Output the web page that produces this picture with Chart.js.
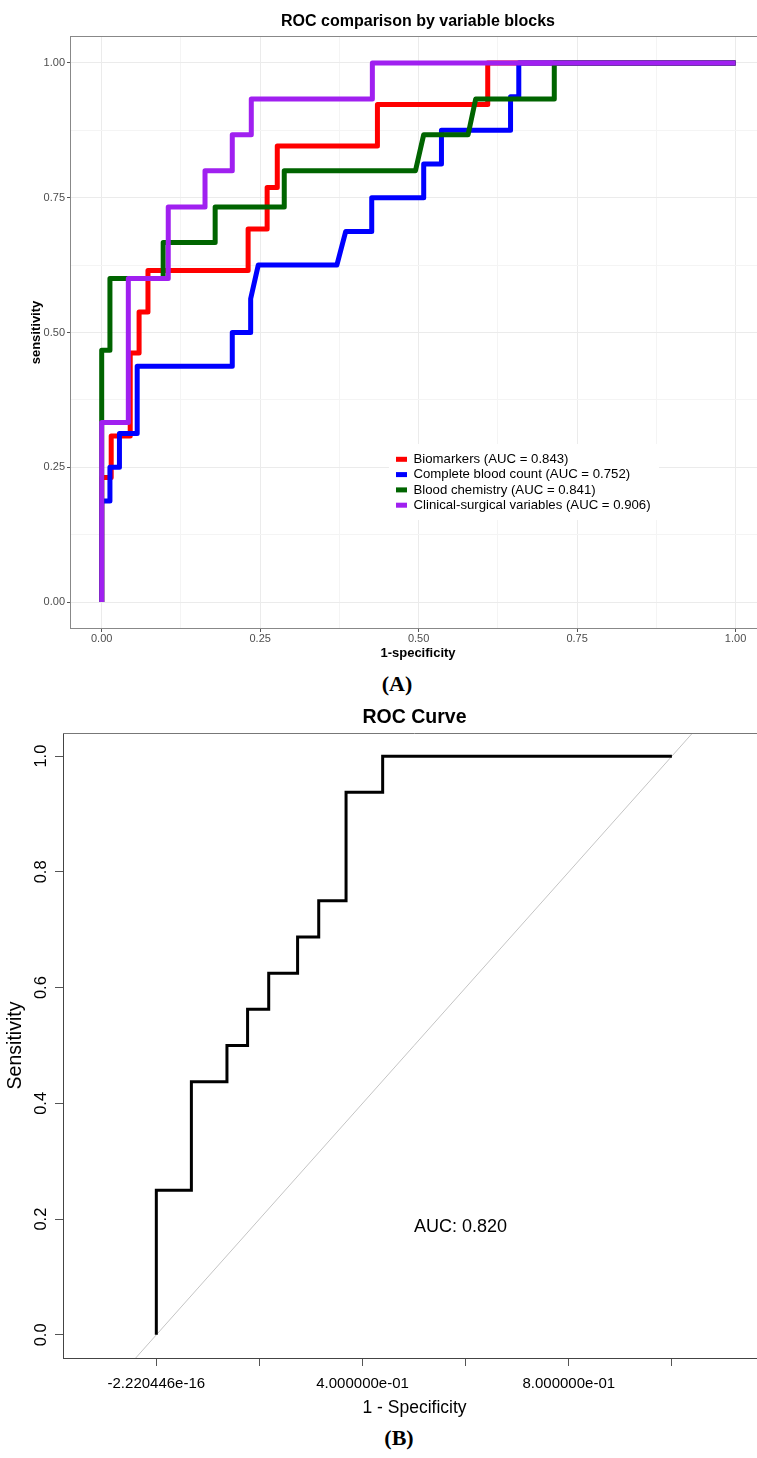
<!DOCTYPE html>
<html>
<head>
<meta charset="utf-8">
<title>ROC curves</title>
<script src="https://cdn.jsdelivr.net/npm/chart.js@4.4.1/dist/chart.umd.min.js"></script>
<style>
    html, body { margin: 0; padding: 0; background: #fff; overflow: hidden; }
    #page { position: relative; width: 757px; height: 1458px; overflow: hidden; background: #fff; }
    .panel { position: absolute; left: 0; }
    #wrapA { top: 0; }
    #wrapB { top: 690px; }
    .tag {
        position: absolute;
        font: bold 22px 'Liberation Serif', 'Times New Roman', serif;
        color: #000;
        transform: translate(-50%, -50%);
        white-space: nowrap;
    }
</style>
</head>
<body>
<div id="page">
    <div class="panel" id="wrapA"><canvas id="rocA" width="770" height="668"></canvas></div>
    <div class="tag" style="left:397px; top:684px;">(A)</div>
    <div class="panel" id="wrapB"><canvas id="rocB" width="770" height="730"></canvas></div>
    <div class="tag" style="left:399px; top:1438px;">(B)</div>
</div>
<script>
    "use strict";

    // ---- Panel A: ROC comparison by variable blocks ----
    var blockNames = ['Biomarkers', 'Complete blood count', 'Blood chemistry', 'Clinical-surgical variables'];
    var blockAuc = ['0.843', '0.752', '0.841', '0.906'];
    var blockColors = ['#ff0000', '#0000ff', '#006400', '#a020f0'];

    var biomarkersFpr = [0, 0, 0.015, 0.015, 0.045, 0.045, 0.059, 0.059, 0.073, 0.073, 0.231, 0.231, 0.261, 0.261, 0.277, 0.277, 0.435, 0.435, 0.609, 0.609, 1];
    var biomarkersTpr = [0, 0.231, 0.231, 0.308, 0.308, 0.462, 0.462, 0.538, 0.538, 0.615, 0.615, 0.692, 0.692, 0.769, 0.769, 0.846, 0.846, 0.923, 0.923, 1, 1];

    var bloodCountFpr = [0, 0, 0.013, 0.013, 0.028, 0.028, 0.056, 0.056, 0.206, 0.206, 0.235, 0.235, 0.247, 0.371, 0.385, 0.426, 0.426, 0.508, 0.508, 0.536, 0.536, 0.645, 0.645, 0.658, 0.658, 1];
    var bloodCountTpr = [0, 0.1875, 0.1875, 0.25, 0.25, 0.3125, 0.3125, 0.4375, 0.4375, 0.5, 0.5, 0.5625, 0.625, 0.625, 0.6875, 0.6875, 0.75, 0.75, 0.8125, 0.8125, 0.875, 0.875, 0.9375, 0.9375, 1, 1];

    var chemistryFpr = [0, 0, 0.013, 0.013, 0.097, 0.097, 0.179, 0.179, 0.288, 0.288, 0.495, 0.508, 0.578, 0.590, 0.714, 0.714, 1];
    var chemistryTpr = [0, 0.467, 0.467, 0.6, 0.6, 0.667, 0.667, 0.733, 0.733, 0.8, 0.8, 0.867, 0.867, 0.933, 0.933, 1, 1];

    var clinicalFpr = [0, 0, 0.042, 0.042, 0.105, 0.105, 0.163, 0.163, 0.206, 0.206, 0.236, 0.236, 0.427, 0.427, 1];
    var clinicalTpr = [0, 0.333, 0.333, 0.6, 0.6, 0.733, 0.733, 0.8, 0.8, 0.867, 0.867, 0.933, 0.933, 1, 1];

    var majorTicksA = [0, 0.25, 0.5, 0.75, 1];
    var majorLabelsA = ['0.00', '0.25', '0.50', '0.75', '1.00'];
    var minorTicksA = [0.125, 0.375, 0.625, 0.875];

    // ---- Panel B: single ROC curve ----
    var curveFprB = [0, 0, 0.068, 0.068, 0.137, 0.137, 0.177, 0.177, 0.218, 0.218, 0.274, 0.274, 0.315, 0.315, 0.368, 0.368, 0.439, 0.439, 1];
    var curveTprB = [0, 0.25, 0.25, 0.4375, 0.4375, 0.5, 0.5, 0.5625, 0.5625, 0.625, 0.625, 0.6875, 0.6875, 0.75, 0.75, 0.9375, 0.9375, 1, 1];
    var xTicksB = [0, 0.2, 0.4, 0.6, 0.8, 1];
    var xLabelsB = ['-2.220446e-16', '', '4.000000e-01', '', '8.000000e-01', ''];
    var yTicksB = [0, 0.2, 0.4, 0.6, 0.8, 1];
    var yLabelsB = ['0.0', '0.2', '0.4', '0.6', '0.8', '1.0'];
    var aucTextB = 'AUC: 0.820';
    var aucPosB = [0.59, 0.186];

    var SANS = "'Liberation Sans', Arial, sans-serif";
    Chart.defaults.font.family = SANS;
    Chart.defaults.animation = false;

    function toPoints(fpr, tpr) {
        return fpr.map(function (x, i) { return {x: x, y: tpr[i]}; });
    }

    function setTicks(values) {
        return function (scale) {
            scale.ticks = values.map(function (v) { return {value: v}; });
        };
    }

    function isMinorA(ctx) {
        return ctx.tick && minorTicksA.indexOf(ctx.tick.value) >= 0;
    }

    var allTicksA = majorTicksA.concat(minorTicksA).sort(function (a, b) { return a - b; });

    function labelA(value) {
        var i = majorTicksA.indexOf(value);
        return i >= 0 ? majorLabelsA[i] : '';
    }

    var gridA = {
        color: function (ctx) { return isMinorA(ctx) ? '#f4f4f4' : '#ebebeb'; },
        lineWidth: 1,
        tickLength: 3,
        tickColor: function (ctx) { return isMinorA(ctx) ? 'rgba(0,0,0,0)' : '#555'; }
    };

    // legend and panel border for panel A
    var panelAPlugin = {
        id: 'panelA',
        afterDatasetsDraw: function (chart) {
            var ctx = chart.ctx;
            var area = chart.chartArea;
            ctx.save();

            ctx.fillStyle = '#fff';
            ctx.fillRect(389, 444, 270, 76);

            ctx.font = '13.2px ' + SANS;
            ctx.textBaseline = 'middle';
            ctx.textAlign = 'left';
            blockNames.forEach(function (name, i) {
                var y = 459.3 + i * 15.3;
                ctx.fillStyle = blockColors[i];
                ctx.fillRect(396, y - 2.5, 11, 5);
                ctx.fillStyle = '#000';
                ctx.fillText(name + ' (AUC = ' + blockAuc[i] + ')', 413.5, y);
            });

            ctx.strokeStyle = '#888';
            ctx.lineWidth = 1;
            ctx.strokeRect(area.left + 0.5, area.top + 0.5, area.right - area.left - 1, area.bottom - area.top - 1);
            ctx.restore();
        }
    };

    var datasetsA = [
        [biomarkersFpr, biomarkersTpr],
        [bloodCountFpr, bloodCountTpr],
        [chemistryFpr, chemistryTpr],
        [clinicalFpr, clinicalTpr]
    ].map(function (pair, i) {
        return {
            label: blockNames[i],
            data: toPoints(pair[0], pair[1]),
            borderColor: blockColors[i],
            borderWidth: 5,
            borderJoinStyle: 'round',
            borderCapStyle: 'butt',
            pointRadius: 0,
            fill: false,
            order: blockNames.length - i
        };
    });

    new Chart(document.getElementById('rocA'), {
        type: 'line',
        data: {datasets: datasetsA},
        options: {
            responsive: false,
            events: [],
            layout: {padding: {left: 0, right: 4, top: 0, bottom: 0}},
            plugins: {
                legend: {display: false},
                tooltip: {enabled: false},
                title: {
                    display: true,
                    text: 'ROC comparison by variable blocks',
                    fullSize: false,
                    color: '#000',
                    font: {size: 16, weight: 'bold'},
                    padding: {top: 12.4, bottom: 4.4}
                }
            },
            scales: {
                x: {
                    type: 'linear',
                    min: -0.05,
                    max: 1.048,
                    afterBuildTicks: setTicks(allTicksA),
                    afterFit: function (scale) { scale.height = 39; },
                    grid: gridA,
                    border: {display: false},
                    ticks: {
                        autoSkip: false, maxRotation: 0, padding: 0.5,
                        color: '#4d4d4d', font: {size: 11},
                        callback: function (value) { return labelA(value); }
                    },
                    title: {
                        display: true, text: '1-specificity', color: '#000',
                        font: {size: 13, weight: 'bold'}, padding: {top: 0, bottom: 7.2}
                    }
                },
                y: {
                    type: 'linear',
                    min: -0.05,
                    max: 1.05,
                    afterBuildTicks: setTicks(allTicksA),
                    afterFit: function (scale) { scale.width = 70; },
                    grid: gridA,
                    border: {display: false},
                    ticks: {
                        autoSkip: false, padding: 2,
                        color: '#4d4d4d', font: {size: 11},
                        callback: function (value) { return labelA(value); }
                    },
                    title: {
                        display: true, text: 'sensitivity', color: '#000',
                        font: {size: 13, weight: 'bold'}, padding: {top: 28.2, bottom: 0}
                    }
                }
            }
        },
        plugins: [panelAPlugin]
    });

    // top border and AUC text for panel B
    var panelBPlugin = {
        id: 'panelB',
        afterDraw: function (chart) {
            var ctx = chart.ctx;
            var area = chart.chartArea;
            var xs = chart.scales.x;
            var ys = chart.scales.y;
            ctx.save();
            ctx.strokeStyle = '#777';
            ctx.lineWidth = 1;
            ctx.beginPath();
            ctx.moveTo(area.left, area.top + 0.5);
            ctx.lineTo(area.right, area.top + 0.5);
            ctx.lineTo(area.right - 0.5, area.bottom);
            ctx.stroke();

            ctx.fillStyle = '#000';
            ctx.font = '18px ' + SANS;
            ctx.textAlign = 'center';
            ctx.textBaseline = 'middle';
            ctx.fillText(aucTextB, xs.getPixelForValue(aucPosB[0]), ys.getPixelForValue(aucPosB[1]));
            ctx.restore();
        }
    };

    var xMinB = -0.181;
    var xMaxB = 1.1825;

    new Chart(document.getElementById('rocB'), {
        type: 'line',
        data: {
            datasets: [{
                label: 'ROC',
                data: toPoints(curveFprB, curveTprB),
                borderColor: '#000',
                borderWidth: 3,
                borderJoinStyle: 'miter',
                pointRadius: 0,
                fill: false,
                order: 1
            }, {
                label: 'chance',
                data: [{x: xMinB, y: xMinB}, {x: xMaxB, y: xMaxB}],
                borderColor: '#c4c4c4',
                borderWidth: 1,
                pointRadius: 0,
                fill: false,
                order: 2
            }]
        },
        options: {
            responsive: false,
            events: [],
            layout: {padding: {left: 0, right: 4, top: 0, bottom: 0}},
            plugins: {
                legend: {display: false},
                tooltip: {enabled: false},
                title: {
                    display: true,
                    text: 'ROC Curve',
                    fullSize: false,
                    color: '#000',
                    font: {size: 19.5, weight: 'bold'},
                    padding: {top: 16.3, bottom: 3.3}
                }
            },
            scales: {
                x: {
                    type: 'linear',
                    min: xMinB,
                    max: xMaxB,
                    afterBuildTicks: setTicks(xTicksB),
                    afterFit: function (scale) { scale.height = 62; },
                    grid: {drawOnChartArea: false, tickLength: 8, tickColor: '#555'},
                    border: {display: true, color: '#444'},
                    ticks: {
                        autoSkip: false, maxRotation: 0, padding: 9,
                        color: '#000', font: {size: 15},
                        callback: function (value, index) { return xLabelsB[index]; }
                    },
                    title: {
                        display: true, text: '1 - Specificity', color: '#000',
                        font: {size: 17.5}, padding: {top: 0, bottom: 1.5}
                    }
                },
                y: {
                    type: 'linear',
                    min: -0.04,
                    max: 1.04,
                    afterBuildTicks: setTicks(yTicksB),
                    afterFit: function (scale) { scale.width = 63; },
                    grid: {drawOnChartArea: false, tickLength: 8, tickColor: '#555'},
                    border: {display: true, color: '#444'},
                    ticks: {
                        autoSkip: false, minRotation: 90, maxRotation: 90,
                        crossAlign: 'center', padding: 2,
                        color: '#000', font: {size: 16.5},
                        callback: function (value, index) { return yLabelsB[index]; }
                    },
                    title: {
                        display: true, text: 'Sensitivity', color: '#000',
                        font: {size: 19.5}, padding: {top: 4.3, bottom: 0}
                    }
                }
            }
        },
        plugins: [panelBPlugin]
    });
</script>
</body>
</html>
